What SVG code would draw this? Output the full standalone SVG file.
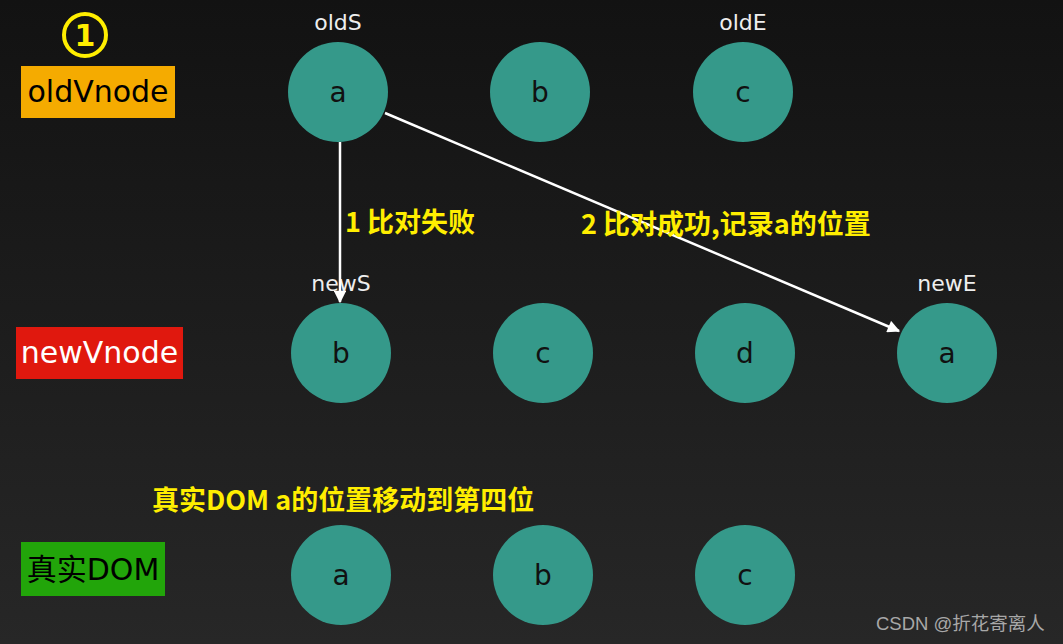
<svg xmlns="http://www.w3.org/2000/svg" width="1063" height="644" viewBox="0 0 1063 644">
<defs>
<linearGradient id="bg" x1="0" y1="0" x2="0" y2="1">
<stop offset="0" stop-color="#121212"/>
<stop offset="1" stop-color="#272727"/>
</linearGradient>
<marker id="ah" viewBox="0 0 10 10" refX="9" refY="5" markerWidth="5.5" markerHeight="5" orient="auto" markerUnits="strokeWidth">
<path d="M0,0 L10,5 L0,10 z" fill="#ffffff"/>
</marker>
<style>
.node circle{fill:#35998a}
.node text{font-family:"DejaVu Sans","Noto Sans",sans-serif;font-size:28px;fill:#111;text-anchor:middle}
.ptr{font-family:"DejaVu Sans","Noto Sans",sans-serif;font-size:22px;fill:#eeeeee;text-anchor:middle}
.note{font-family:"Noto Sans CJK SC","Noto Sans",sans-serif;font-size:27px;font-weight:bold;fill:#ffee00}
.tag{font-family:"DejaVu Sans","Noto Sans CJK SC",sans-serif;font-size:30px;text-anchor:middle}
.conn line{stroke:#ffffff;stroke-width:2.5;marker-end:url(#ah)}
</style>
</defs>
<rect width="1063" height="644" fill="url(#bg)"/>

<g id="step">
<circle cx="85" cy="35" r="21" fill="none" stroke="#ffee00" stroke-width="4"/>
<text x="85" y="46" font-family="'DejaVu Sans',sans-serif" font-size="30" font-weight="bold" fill="#ffee00" text-anchor="middle">1</text>
</g>

<g id="label-old">
<rect x="21" y="66" width="154" height="52" fill="#f5ab00"/>
<text class="tag" x="98" y="102" fill="#000">oldVnode</text>
</g>
<g id="label-new">
<rect x="16" y="327" width="167" height="52" fill="#e0180e"/>
<text class="tag" x="99.5" y="363" fill="#fff">newVnode</text>
</g>
<g id="label-dom">
<rect x="21" y="542" width="144" height="54" fill="#22a50a"/>
<text class="tag" x="93" y="580" fill="#000" font-family="'Noto Sans CJK SC','DejaVu Sans',sans-serif" font-size="31">真实DOM</text>
</g>

<g id="pointers">
<text class="ptr" x="338" y="30">oldS</text>
<text class="ptr" x="743" y="30">oldE</text>
<text class="ptr" x="341" y="291">newS</text>
<text class="ptr" x="947" y="291">newE</text>
</g>

<g id="old-a" class="node"><circle cx="338" cy="92" r="50"/><text x="338" y="102">a</text></g>
<g id="old-b" class="node"><circle cx="540" cy="92" r="50"/><text x="540" y="102">b</text></g>
<g id="old-c" class="node"><circle cx="743" cy="92" r="50"/><text x="743" y="102">c</text></g>

<g id="new-b" class="node"><circle cx="341" cy="353" r="50"/><text x="341" y="363">b</text></g>
<g id="new-c" class="node"><circle cx="543" cy="353" r="50"/><text x="543" y="363">c</text></g>
<g id="new-d" class="node"><circle cx="745" cy="353" r="50"/><text x="745" y="363">d</text></g>
<g id="new-a" class="node"><circle cx="947" cy="353" r="50"/><text x="947" y="363">a</text></g>

<g id="dom-a" class="node"><circle cx="341" cy="575" r="50"/><text x="341" y="585">a</text></g>
<g id="dom-b" class="node"><circle cx="543" cy="575" r="50"/><text x="543" y="585">b</text></g>
<g id="dom-c" class="node"><circle cx="745" cy="575" r="50"/><text x="745" y="585">c</text></g>

<g id="connectors" class="conn">
<line x1="340" y1="142" x2="340" y2="302"/>
<line x1="385" y1="113" x2="899" y2="331"/>
</g>

<g id="notes">
<text class="note" x="345" y="232">1 比对失败</text>
<text class="note" x="581" y="234">2 比对成功,记录a的位置</text>
<text class="note" x="152" y="510">真实DOM a的位置移动到第四位</text>
</g>

<text x="876" y="630" font-family="'Liberation Sans','Noto Sans CJK SC',sans-serif" font-size="18.5" fill="#a8a8a8">CSDN @折花寄离人</text>
</svg>
